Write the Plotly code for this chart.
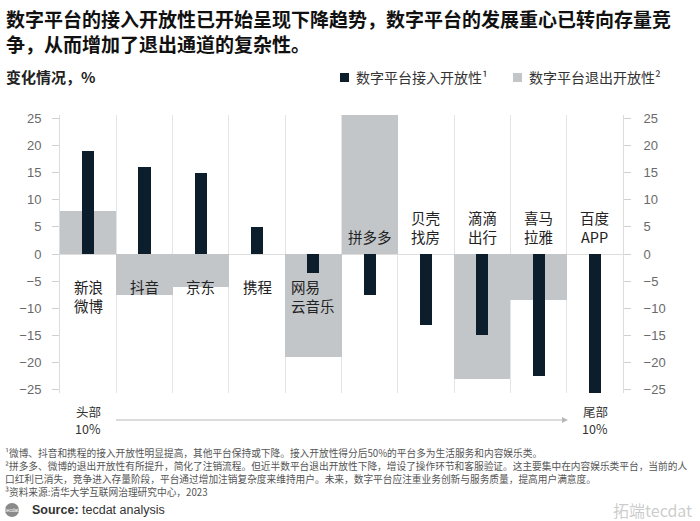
import plotly.graph_objects as go

# ---- data ----
categories = ["新浪<br>微博", "抖音", "京东", "携程", "网易<br>云音乐",
              "拼多多", "贝壳<br>找房", "滴滴<br>出行", "喜马<br>拉雅", "百度<br>APP"]
access_open = [19, 16, 15, 5, -3.5, -7.5, -13, -15, -22.5, -26]      # 数字平台接入开放性
exit_open = [8, -7.5, -6, 0, -19, 26, 0, -23, -8.5, 0]               # 数字平台退出开放性
tick_vals = [-25, -20, -15, -10, -5, 0, 5, 10, 15, 20, 25]
title_lines = ["数字平台的接入开放性已开始呈现下降趋势，数字平台的发展重心已转向存量竞",
               "争，从而增加了退出通道的复杂性。"]
legend_names = ["数字平台接入开放性¹", "数字平台退出开放性²"]
end_labels = [("头部", "10%"), ("尾部", "10%")]
footnotes = [
    "¹微博、抖音和携程的接入开放性明显提高，其他平台保持或下降。接入开放性得分后50%的平台多为生活服务和内容娱乐类。",
    "²拼多多、微博的退出开放性有所提升，简化了注销流程。但近半数平台退出开放性下降，增设了操作环节和客服验证。这主要集中在内容娱乐类平台，当前的人",
    "口红利已消失，竞争进入存量阶段，平台通过增加注销复杂度来维持用户。未来，数字平台应注重业务创新与服务质量，提高用户满意度。",
    "³资料来源:清华大学互联网治理研究中心，2023",
]

DARK = "#0c1d2c"
GRAY = "#c3c6c9"
CJK = "Noto Sans CJK SC"

W, H = 700, 521
L, R, T, B = 60, 623, 115, 393


def PX(x):
    return (x - L) / (R - L)


def PY(y):
    return (B - y) / (B - T)


xs = list(range(len(categories)))

fig = go.Figure()
fig.add_trace(go.Bar(x=xs, y=exit_open, width=1.0, marker=dict(color=GRAY, line=dict(width=0)),
                     name=legend_names[1], showlegend=False))
fig.add_trace(go.Bar(x=xs, y=access_open, width=0.215, marker=dict(color=DARK, line=dict(width=0)),
                     name=legend_names[0], showlegend=False))
# same bars mirrored on the right-hand axis (invisible) so that axis is drawn
fig.add_trace(go.Bar(x=xs, y=access_open, width=0.215, yaxis="y2", opacity=0,
                     showlegend=False, hoverinfo="skip", marker=dict(color=DARK)))

axis_common = dict(
    range=[-25.6, 25.6], tickvals=tick_vals, ticks="outside", ticklen=7,
    tickcolor="#d0d0d0", showline=True, linecolor="#dcdcdc", linewidth=1,
    showgrid=False, tickfont=dict(family="Liberation Sans", size=13, color="#6a6a6a"),
)

fig.update_layout(
    width=W, height=H,
    margin=dict(l=L, r=W - R, t=T, b=H - B),
    paper_bgcolor="white", plot_bgcolor="white",
    barmode="overlay", bargap=0,
    xaxis=dict(range=[-0.5, len(categories) - 0.5],
               tickvals=[i - 0.5 for i in range(len(categories) + 1)],
               showticklabels=False, ticks="", showgrid=True, gridcolor="#e4e4e4",
               gridwidth=1, zeroline=False, showline=False, fixedrange=True),
    yaxis=dict(**axis_common, side="left", zeroline=True, zerolinecolor="#dedede",
               zerolinewidth=1, ticklabelstandoff=8),
    yaxis2=dict(**axis_common, side="right", overlaying="y", matches="y",
                zeroline=False, ticklabelstandoff=10),
    font=dict(family=CJK, color="#222"),
)

ann = []
# title
ann.append(dict(text="<b>" + "<br>".join(title_lines) + "</b>", x=PX(4), y=PY(3),
                xref="paper", yref="paper", xanchor="left", yanchor="top", align="left",
                showarrow=False, font=dict(family=CJK, size=19, color="#111")))
# subtitle
ann.append(dict(text="<b>变化情况，%</b>", x=PX(4), y=PY(77), xref="paper", yref="paper",
                xanchor="left", yanchor="middle", showarrow=False,
                font=dict(family=CJK, size=15, color="#222")))
# legend
for name, x0, col in [(legend_names[0], 340, DARK), (legend_names[1], 513, GRAY)]:
    fig.add_shape(type="rect", xref="paper", yref="paper",
                  x0=PX(x0), x1=PX(x0 + 9), y0=PY(82), y1=PY(73),
                  fillcolor=col, line=dict(width=0))
    ann.append(dict(text=name, x=PX(x0 + 14), y=PY(77), xref="paper", yref="paper",
                    xanchor="left", yanchor="middle", showarrow=False,
                    font=dict(family=CJK, size=14, color="#333")))
# category labels
for i, lab in enumerate(categories):
    above = i >= 5
    ann.append(dict(text=lab, x=i, y=1.0 if above else -3.7, xref="x", yref="y",
                    xanchor="center", yanchor="bottom" if above else "top",
                    align="left" if i == 4 else "center", showarrow=False,
                    font=dict(family=CJK, size=14.5, color="#222")))
# head / tail labels and arrow
for (top, bottom), cx in zip(end_labels, [88, 595]):
    ann.append(dict(text=top, x=PX(cx), y=PY(411), xref="paper", yref="paper",
                    xanchor="center", yanchor="middle", showarrow=False, borderpad=0,
                    font=dict(family=CJK, size=12.5, color="#333")))
    ann.append(dict(text=bottom, x=PX(cx), y=PY(428), xref="paper", yref="paper",
                    xanchor="center", yanchor="middle", showarrow=False, borderpad=0,
                    font=dict(family=CJK, size=12.5, color="#333")))
fig.add_shape(type="line", xref="paper", yref="paper", x0=PX(116), x1=PX(563),
              y0=PY(420), y1=PY(420), line=dict(color="#b8b8b8", width=1))
fig.add_shape(type="path", xref="paper", yref="paper",
              path=f"M {PX(562)} {PY(417)} L {PX(568)} {PY(420)} L {PX(562)} {PY(423)} Z",
              fillcolor="#b8b8b8", line=dict(width=0))
# footnotes, one line each
for k, line in enumerate(footnotes):
    ann.append(dict(text=line, x=PX(4), y=PY(453 + 13 * k), xref="paper", yref="paper",
                    xanchor="left", yanchor="middle", align="left", showarrow=False,
                    borderpad=0, font=dict(family=CJK, size=9.7, color="#555")))
# source
fig.add_shape(type="circle", xref="paper", yref="paper", x0=PX(5), x1=PX(19),
              y0=PY(517), y1=PY(503), fillcolor="#8a8a8a", line=dict(width=0))
ann.append(dict(text="tecdat", x=PX(12), y=PY(510), xref="paper", yref="paper",
                xanchor="center", yanchor="middle", showarrow=False,
                font=dict(family="Liberation Sans", size=5, color="white")))
ann.append(dict(text="<b>Source:</b> tecdat analysis", x=PX(30), y=PY(510), xref="paper",
                yref="paper", xanchor="left", yanchor="middle", showarrow=False,
                font=dict(family="Liberation Sans", size=12.5, color="#333")))
# watermark
ann.append(dict(text="拓端tecdat", x=PX(694), y=PY(510), xref="paper", yref="paper",
                xanchor="right", yanchor="middle", showarrow=False,
                font=dict(family=CJK, size=16, color="rgba(170,170,170,0.6)")))

fig.update_layout(annotations=ann)
fig.write_html("out.html", config={"displayModeBar": False},
               post_script="document.body.style.margin='0px';document.body.style.overflow='hidden';")
